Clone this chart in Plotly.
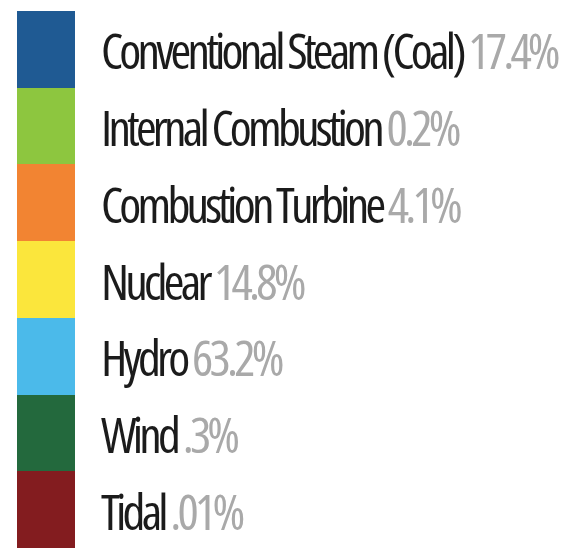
import plotly.graph_objects as go

categories = ["Conventional Steam (Coal)", "Internal Combustion", "Combustion Turbine",
              "Nuclear", "Hydro", "Wind", "Tidal"]
shares = ["17.4%", "0.2%", "4.1%", "14.8%", "63.2%", ".3%", ".01%"]
colors = ["#1F5A93", "#8DC63F", "#F28432", "#FBE63C", "#4BBAEA", "#23693D", "#831C1F"]

n = len(categories)
fig = go.Figure()
fig.add_trace(go.Bar(
    x=[0] * n, y=[1] * n, base=list(range(n)),
    marker=dict(color=colors, line=dict(width=0)),
    width=58, hoverinfo="skip", showlegend=False,
))

FONT = "Open Sans, sans-serif"
STYLE = "font-stretch:condensed;letter-spacing:-3.8px"
for i, (cat, sh) in enumerate(zip(categories, shares)):
    fig.add_annotation(
        x=53, y=i + 0.5, xref="x", yref="y", xanchor="left", yanchor="middle",
        yshift=-1,
        text=f"<span style='{STYLE}'>{cat} <span style='color:#A9A9A9'>{sh}</span></span>",
        showarrow=False, font=dict(family=FONT, size=50, color="#1B1B1B"),
    )

# page body adds an 8px margin, so the figure is 561x540 and offset by 8px
fig.update_layout(
    width=561, height=540, margin=dict(l=0, r=0, t=3, b=0),
    paper_bgcolor="white", plot_bgcolor="white",
    xaxis=dict(range=[-38, 523], visible=False, fixedrange=True),
    yaxis=dict(range=[n, 0], visible=False, fixedrange=True),
    bargap=0,
)
fig.write_html("out.html")
